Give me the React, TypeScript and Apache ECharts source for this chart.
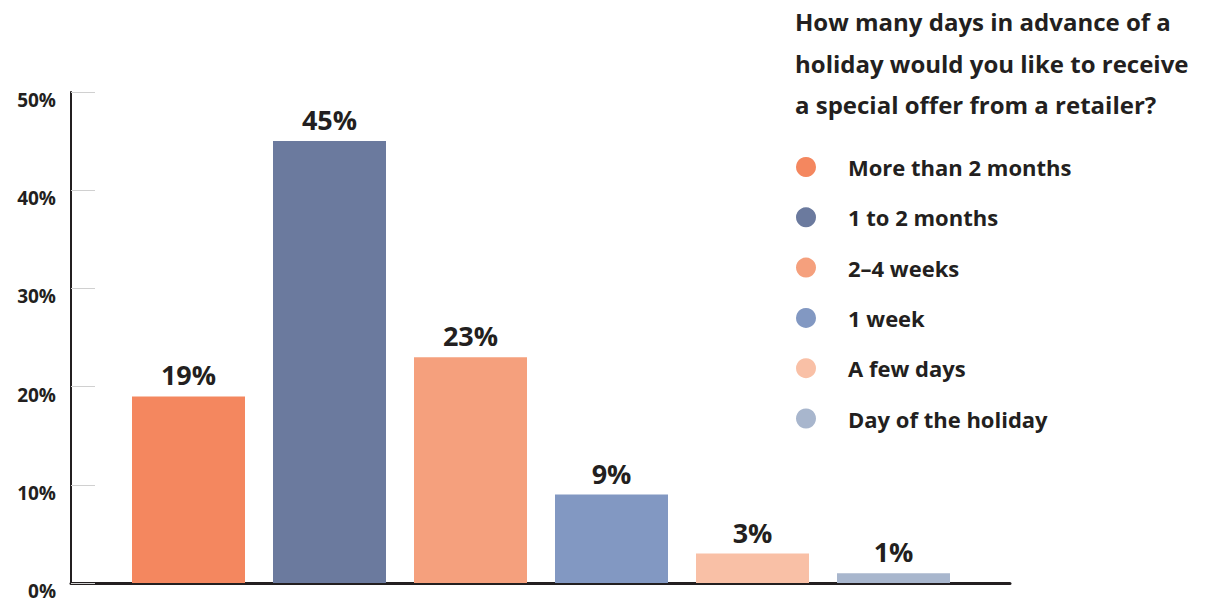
import React, { useEffect, useRef } from "react";
import * as echarts from "echarts";

const categories = ["More than 2 months", "1 to 2 months", "2–4 weeks", "1 week", "A few days", "Day of the holiday"];
const values = [19, 45, 23, 9, 3, 1];
const colors = ["#F4875F", "#6B7A9E", "#F5A07D", "#8298C2", "#F9C0A6", "#A8B6CD"];
const yTicks = [0, 10, 20, 30, 40, 50];
const titleText = "How many days in advance of a\nholiday would you like to receive\na special offer from a retailer?";

const FONT = "'Open Sans', sans-serif";
const INK = "#231f20";

export default function App() {
  const ref = useRef<HTMLDivElement>(null);
  useEffect(() => {
    if (!ref.current) return;
    const chart = echarts.init(ref.current, undefined, { renderer: "svg" });
    const series = categories.map((name, i) => ({
      name,
      type: "bar",
      xAxisIndex: 1,
      yAxisIndex: 1,
      stack: "all",
      barWidth: 113,
      itemStyle: { color: colors[i] },
      label: {
        show: true,
        position: "top",
        distance: 8,
        formatter: "{c}%",
        fontFamily: FONT,
        fontWeight: "bold",
        fontSize: 27,
        color: INK,
      },
      data: values.map((v, j) => (j === i ? v : "-")),
    }));
    chart.setOption({
      animation: false,
      title: {
        text: titleText,
        left: 795,
        top: 1,
        padding: 0,
        textStyle: { fontFamily: FONT, fontWeight: "bold", fontSize: 24, lineHeight: 41.5, color: INK },
      },
      legend: {
        orient: "vertical",
        left: 796,
        top: 156,
        padding: 0,
        icon: "circle",
        itemWidth: 20,
        itemHeight: 20,
        itemGap: 28.3,
        data: categories,
        textStyle: { fontFamily: FONT, fontWeight: "bold", fontSize: 22, lineHeight: 20, color: INK, padding: [0, 0, 0, 27] },
      },
      grid: [
        { left: 71, right: 212, top: 92, bottom: 18 },
        { left: 118, right: 258, top: 92, bottom: 18 },
      ],
      xAxis: [
        {
          type: "category",
          gridIndex: 0,
          data: [""],
          axisLine: { show: true, lineStyle: { color: INK, width: 3 } },
          axisTick: { show: false },
          axisLabel: { show: false },
        },
        {
          type: "category",
          gridIndex: 1,
          data: categories,
          axisLine: { show: false },
          axisTick: { show: false },
          axisLabel: { show: false },
        },
      ],
      yAxis: [
        {
          type: "value",
          gridIndex: 0,
          min: yTicks[0],
          max: yTicks[yTicks.length - 1],
          interval: 10,
          axisLine: { show: true, lineStyle: { color: INK, width: 2 } },
          axisTick: { show: true, inside: true, length: 24, lineStyle: { color: "#d0d0d0", width: 1 } },
          splitLine: { show: false },
          axisLabel: {
            formatter: "{value}%",
            margin: 15,
            verticalAlign: "top",
            fontFamily: FONT,
            fontWeight: "bold",
            fontSize: 19,
            lineHeight: 16,
            color: INK,
          },
        },
        {
          type: "value",
          gridIndex: 1,
          min: 0,
          max: 50,
          show: false,
        },
      ],
      series,
    });
    return () => chart.dispose();
  }, []);
  return <div ref={ref} style={{ width: 1222, height: 601, position: "absolute", left: 0, top: 0 }} />;
}
